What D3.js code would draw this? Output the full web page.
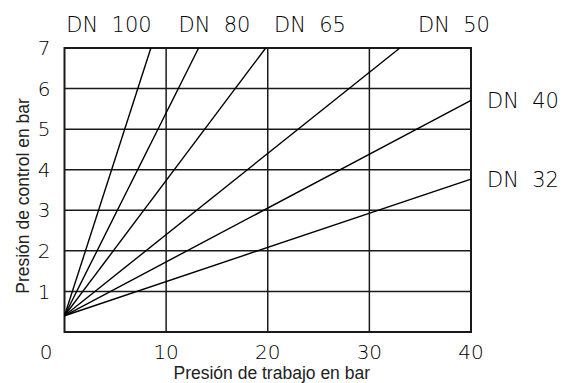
<!DOCTYPE html>
<html>
<head>
<meta charset="utf-8">
<script src="https://cdn.jsdelivr.net/npm/d3@7"></script>
<style>
  body { margin: 0; background: #fff; }
  svg { display: block; }
</style>
</head>
<body>
<div id="chart"></div>
<script>
// data
const series = ["DN  100", "DN  80", "DN  65", "DN  50", "DN  40", "DN  32"];
const startX = 0, startY = 0.4;
const endX = [8.5, 13.2, 19.8, 33.0, 40, 40];
const endY = [7, 7, 7, 7, 5.71, 3.77];
const xTicks = [0, 10, 20, 30, 40];
const yTicks = [1, 2, 3, 4, 5, 6, 7];

const width = 568, height = 383;
const margin = { top: 48, right: 97, bottom: 51, left: 64.5 };
const innerW = width - margin.left - margin.right,
    innerH = height - margin.top - margin.bottom;

const techFont = "'DejaVu Sans', sans-serif";

const svg = d3.select("#chart")
    .append("svg")
    .attr("width", width)
    .attr("height", height);

const g = svg.append("g")
    .attr("transform", `translate(${margin.left},${margin.top})`);

const x = d3.scaleLinear().domain([0, 40]).range([0, innerW]);
const y = d3.scaleLinear().domain([0, 7]).range([innerH, 0]);

// grid
g.append("g")
    .selectAll("line")
    .data(yTicks.slice(0, -1))
    .enter().append("line")
    .attr("x1", 0).attr("x2", innerW)
    .attr("y1", d => y(d)).attr("y2", d => y(d))
    .attr("stroke", "#1a1a1a")
    .attr("stroke-width", 1.5);

g.append("g")
    .selectAll("line")
    .data(xTicks.slice(1, -1))
    .enter().append("line")
    .attr("x1", d => x(d)).attr("x2", d => x(d))
    .attr("y1", 0).attr("y2", innerH)
    .attr("stroke", "#1a1a1a")
    .attr("stroke-width", 1.5);

// frame
g.append("rect")
    .attr("x", 0).attr("y", 0)
    .attr("width", innerW).attr("height", innerH)
    .attr("fill", "none")
    .attr("stroke", "#1a1a1a")
    .attr("stroke-width", 2);

// lines
g.append("g")
    .selectAll("line")
    .data(series)
    .enter().append("line")
    .attr("x1", x(startX)).attr("y1", y(startY))
    .attr("x2", (d, i) => x(endX[i]))
    .attr("y2", (d, i) => y(endY[i]))
    .attr("stroke", "#000")
    .attr("stroke-width", 1.4);

// tick labels
g.append("g")
    .selectAll("text")
    .data(xTicks)
    .enter().append("text")
    .attr("x", d => d === 0 ? -18.5 : x(d))
    .attr("y", innerH + 26.5)
    .attr("text-anchor", "middle")
    .attr("font-family", techFont)
    .attr("font-weight", 200)
    .attr("font-size", 20)
    .text(d => d);

g.append("g")
    .selectAll("text")
    .data(yTicks)
    .enter().append("text")
    .attr("x", -14)
    .attr("y", d => y(d))
    .attr("dy", "0.36em")
    .attr("text-anchor", "end")
    .attr("font-family", techFont)
    .attr("font-weight", 200)
    .attr("font-size", 20)
    .text(d => d);

// series labels
const labelX = [109, 214.5, 310, 454];   // px centres for the top labels
svg.append("g")
    .selectAll("text")
    .data(series.slice(0, 4))
    .enter().append("text")
    .attr("x", (d, i) => labelX[i])
    .attr("y", 31.5)
    .attr("text-anchor", "middle")
    .attr("font-family", techFont)
    .attr("font-weight", 200)
    .attr("font-size", 21)
    .style("white-space", "pre")
    .text(d => d);

svg.append("g")
    .selectAll("text")
    .data(series.slice(4))
    .enter().append("text")
    .attr("x", margin.left + innerW + 16)
    .attr("y", (d, i) => margin.top + y(endY[i + 4]))
    .attr("dy", "0.36em")
    .attr("font-family", techFont)
    .attr("font-weight", 200)
    .attr("font-size", 21)
    .style("white-space", "pre")
    .text(d => d);

// axis titles
svg.append("text")
    .attr("x", margin.left + innerW / 2 + 4)
    .attr("y", 379)
    .attr("text-anchor", "middle")
    .attr("font-family", "'Liberation Sans', Arial, sans-serif")
    .attr("font-size", 17.5)
    .attr("fill", "#222")
    .text("Presión de trabajo en bar");

svg.append("text")
    .attr("transform", `translate(29, 196) rotate(-90)`)
    .attr("text-anchor", "middle")
    .attr("font-family", "'Liberation Sans', Arial, sans-serif")
    .attr("font-size", 17.5)
    .attr("fill", "#222")
    .text("Presión de control en bar");
</script>
</body>
</html>
